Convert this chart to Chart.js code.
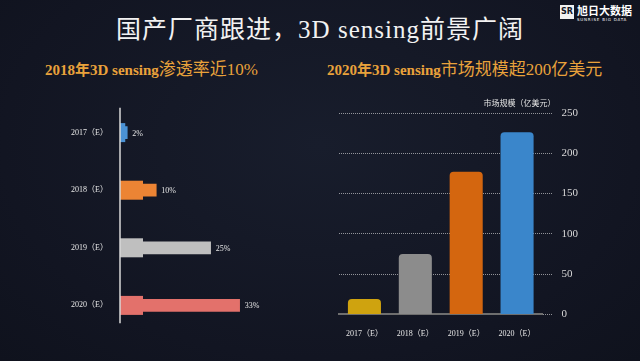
<!DOCTYPE html>
<html>
<head>
<meta charset="utf-8">
<script src="https://cdn.jsdelivr.net/npm/chart.js@4"></script>
<style>
  html, body { margin: 0; padding: 0; }
  body {
    width: 640px; height: 361px; overflow: hidden; position: relative;
    background: radial-gradient(ellipse at 50% 40%, #181d2c 0%, #121522 70%, #0f121d 100%);
    font-family: 'Liberation Serif', 'Noto Sans CJK SC', serif;
  }
  #title {
    position: absolute; left: 0; top: 9px; width: 640px; text-align: center;
    color: #f2f2f2; font-size: 25px; letter-spacing: 1px;
  }
  .sub {
    position: absolute; top: 55px; color: #e9a23b; font-size: 15px; font-weight: bold;
  }
  .sub .cn { font-size: 17px; font-weight: normal; }
  #logo { position: absolute; left: 560px; top: 5px; color: #fff; }
  #logo .box { position: absolute; left: 0; top: 0; width: 14px; height: 14px; background: #f2f2f2; color: #141826; font-size: 8px; font-weight: bold; line-height: 14px; text-align: center; font-family: 'DejaVu Sans', sans-serif; }
  #logo .name { position: absolute; left: 17px; top: -3px; font-size: 11px; font-weight: bold; white-space: nowrap; font-family: 'Noto Sans CJK SC', sans-serif; }
  #logo .en { position: absolute; left: 17px; top: 12px; font-size: 4px; white-space: nowrap; font-family: 'DejaVu Sans', sans-serif; letter-spacing: 0.8px; }
  #left { position: absolute; left: 0; top: 95px; }
  #right { position: absolute; left: 320px; top: 95px; }
</style>
</head>
<body>
<div id="title">国产厂商跟进，3D sensing前景广阔</div>
<div id="logo"><div class="box">SR</div><div class="name">旭日大数据</div><div class="en">SUNRISE BIG DATA</div></div>
<div class="sub" style="left:45px">2018年3D sensing<span class="cn">渗透率近10%</span></div>
<div class="sub" style="left:327px">2020年3D sensing<span class="cn">市场规模超200亿美元</span></div>
<canvas id="left" width="300" height="248"></canvas>
<canvas id="right" width="320" height="266"></canvas>
<script>
const years = ['2017（E）', '2018（E）', '2019（E）', '2020（E）'];
const penetration = [2, 10, 25, 33];            // %
const marketSize = [19, 75, 177, 226];          // 亿美元
const penColors = ['#4b92d4', '#ec8434', '#bfbfbf', '#e3716b'];
const sizeColors = ['#cfa30f', '#8c8c8c', '#d4660f', '#3a86cb'];
const sizeTicks = [0, 50, 100, 150, 200, 250];

const SERIF = "'Liberation Serif', 'Noto Sans CJK SC', serif";

// --- left: penetration rate, horizontal bars ---
const penPlugin = {
    id: 'penPlugin',
    beforeDatasetsDraw(chart) {
        // thicker stub at the root of each bar
        const ctx = chart.ctx;
        ctx.save();
        chart.getDatasetMeta(0).data.forEach((bar, i) => {
            const end = Math.min(bar.base + 23, bar.x - 2);
            ctx.fillStyle = penColors[i];
            ctx.fillRect(bar.base, bar.y - 9.5, end - bar.base, 19);
        });
        ctx.restore();
    },
    afterDatasetsDraw(chart) {
        const ctx = chart.ctx, area = chart.chartArea;
        ctx.save();
        // vertical axis line
        ctx.strokeStyle = '#d8d8d8';
        ctx.lineWidth = 1.5;
        ctx.beginPath();
        ctx.moveTo(area.left, area.top + 4);
        ctx.lineTo(area.left, area.bottom - 11);
        ctx.stroke();
        // value labels
        ctx.fillStyle = '#e6e6e6';
        ctx.font = '8px ' + SERIF;
        ctx.textBaseline = 'middle';
        chart.getDatasetMeta(0).data.forEach((bar, i) => {
            ctx.fillText(penetration[i] + '%', bar.x + 5, bar.y + 1);
        });
        ctx.restore();
    }
};

new Chart(document.getElementById('left'), {
    type: 'bar',
    data: {
        labels: years,
        datasets: [{ data: penetration, backgroundColor: penColors, barThickness: 12 }]
    },
    options: {
        indexAxis: 'y',
        responsive: false, animation: false,
        layout: { padding: { top: 0, bottom: 0, right: 35 } },
        plugins: { legend: { display: false }, tooltip: { enabled: false } },
        scales: {
            x: { min: 0, max: 40, display: false },
            y: {
                grid: { display: false }, border: { display: false },
                ticks: { color: '#e6e6e6', font: { family: SERIF, size: 8 }, padding: 4 },
                afterFit(scale) { scale.width = 120; }
            }
        }
    },
    plugins: [penPlugin]
});

// --- right: market size, vertical bars ---
const unitPlugin = {
    id: 'unitPlugin',
    afterDraw(chart) {
        const ctx = chart.ctx, area = chart.chartArea;
        ctx.save();
        ctx.fillStyle = '#e6e6e6';
        ctx.font = '8px ' + SERIF;
        ctx.textAlign = 'right';
        ctx.textBaseline = 'middle';
        ctx.fillText('市场规模（亿美元）', area.right + 13, area.top - 9);
        ctx.restore();
    }
};

new Chart(document.getElementById('right'), {
    type: 'bar',
    data: {
        labels: years,
        datasets: [{
            data: marketSize, backgroundColor: sizeColors,
            borderRadius: { topLeft: 4, topRight: 4 }, borderSkipped: 'bottom',
            barPercentage: 0.65, categoryPercentage: 1
        }]
    },
    options: {
        responsive: false, animation: false,
        layout: { padding: { top: 18, left: 19, right: 53, bottom: 15 } },
        plugins: { legend: { display: false }, tooltip: { enabled: false } },
        scales: {
            x: {
                grid: { display: false },
                border: { color: '#6e6e6e', width: 2 },
                ticks: { color: '#e6e6e6', font: { family: SERIF, size: 8 }, padding: 7 }
            },
            y: {
                position: 'right', min: 0, max: 250,
                afterBuildTicks(scale) { scale.ticks = sizeTicks.map(v => ({ value: v })); },
                grid: { color: 'rgba(230,230,230,0.6)', tickLength: 10, tickColor: 'rgba(230,230,230,0.6)', tickBorderDash: [1, 1] },
                border: { display: false, dash: [1, 1] },
                ticks: { color: '#d8d8d8', font: { family: SERIF, size: 11 }, padding: 9 }
            }
        }
    },
    plugins: [unitPlugin]
});
</script>
</body>
</html>
